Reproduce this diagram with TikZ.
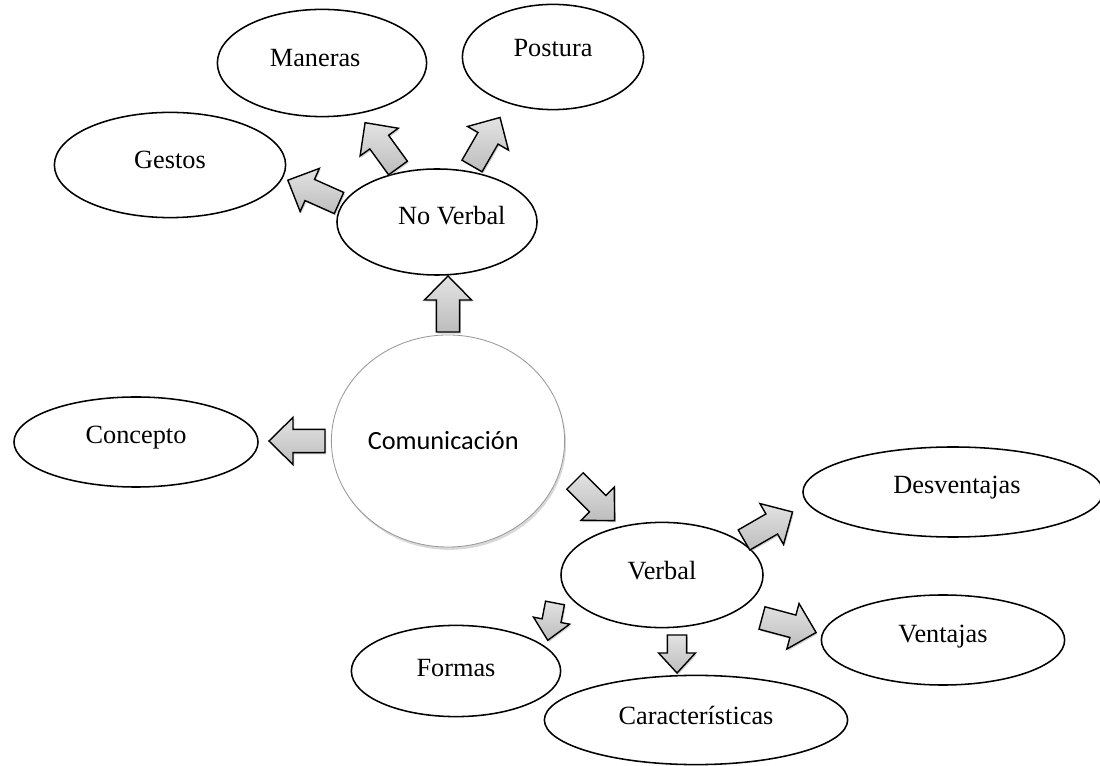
\documentclass[tikz,border=0pt]{standalone}
\usepackage{fontspec}
\setmainfont{Liberation Serif}
\newfontfamily\calibri{Carlito}
\usetikzlibrary{shapes.geometric,shadows}

\tikzset{
  burbuja/.style={ellipse, draw, line width=1.1pt, fill=white, inner sep=0pt},
  texto/.style={font=\fontsize{18.7}{22}\selectfont},
  flechabase/.style={draw=black, line width=1pt, line join=miter,
    top color=gray!22, bottom color=gray!52,
    drop shadow={opacity=0.35, shadow xshift=0.9pt, shadow yshift=-1.2pt}},
  flecha/.pic={
    \path[flechabase] (0,0.29cm) -- (0.8cm,0.29cm) -- (0.8cm,0.59cm) -- (1.4cm,0)
      -- (0.8cm,-0.59cm) -- (0.8cm,-0.29cm) -- (0,-0.29cm) -- cycle;
  },
  flechita/.pic={
    \path[flechabase] (0,0.24cm) -- (0.45cm,0.24cm) -- (0.45cm,0.46cm) -- (0.95cm,0)
      -- (0.45cm,-0.46cm) -- (0.45cm,-0.24cm) -- (0,-0.24cm) -- cycle;
  }
}

\begin{document}
\begin{tikzpicture}[x=0.025cm, y=-0.025cm]
  \useasboundingbox (0,0) rectangle (1100,766);

  % centro
  \node[ellipse, draw=gray!80, line width=0.6pt, fill=white,
        minimum width=5.83cm, minimum height=5.3cm,
        drop shadow={opacity=0.3, shadow xshift=1pt, shadow yshift=-2pt},
        label={[font=\calibri\fontsize{18.7}{22}\selectfont, xshift=-0.12cm]center:Comunicación}]
        (comunicacion) at (448,441) {};

  % no verbal
  \node[burbuja, minimum width=5.0cm, minimum height=2.65cm,
        label={[texto, xshift=0.37cm, yshift=0.15cm]center:No Verbal}] (noverbal) at (437,222) {};
  \node[burbuja, minimum width=5.78cm, minimum height=2.63cm,
        label={[texto, yshift=0.12cm]center:Gestos}] (gestos) at (170,165) {};
  \node[burbuja, minimum width=5.23cm, minimum height=2.68cm,
        label={[texto, xshift=-0.17cm, yshift=0.12cm]center:Maneras}] (maneras) at (322,63) {};
  \node[burbuja, minimum width=4.53cm, minimum height=2.63cm,
        label={[texto, yshift=0.22cm]center:Postura}] (postura) at (553,57) {};

  % concepto
  \node[burbuja, minimum width=6.1cm, minimum height=2.25cm,
        label={[texto, yshift=0.1cm]center:Concepto}] (concepto) at (136,442) {};

  % verbal
  \node[burbuja, minimum width=5.05cm, minimum height=2.63cm,
        label={[texto, yshift=0.12cm]center:Verbal}] (verbal) at (662,575) {};
  \node[burbuja, minimum width=7.5cm, minimum height=2.25cm,
        label={[texto, xshift=0.1cm, yshift=0.1cm]center:Desventajas}] (desventajas) at (953,492) {};
  \node[burbuja, minimum width=6.08cm, minimum height=2.25cm,
        label={[texto, yshift=0.08cm]center:Ventajas}] (ventajas) at (943,640) {};
  \node[burbuja, minimum width=5.23cm, minimum height=2.28cm,
        label={[texto, yshift=0.08cm]center:Formas}] (formas) at (456,671) {};
  \node[burbuja, minimum width=7.58cm, minimum height=2.23cm,
        label={[texto, yshift=0.12cm]center:Características}] (caracteristicas) at (696,720) {};

  % flechas
  \pic[rotate=90]  at (448,332) {flecha};
  \pic[rotate=180] at (325,441) {flecha};
  \pic[rotate=-45] at (575,481) {flecha};
  \pic[rotate=156] at (339,203) {flecha};
  \pic[rotate=126] at (398,168) {flecha};
  \pic[rotate=60]  at (472,166) {flecha};
  \pic[rotate=30]  at (744,540) {flecha};
  \pic[rotate=-15] at (762,618) {flecha};
  \pic[rotate=-90] at (677,635) {flechita};
  \pic[rotate=-101] at (555,603) {flechita};
\end{tikzpicture}
\end{document}
